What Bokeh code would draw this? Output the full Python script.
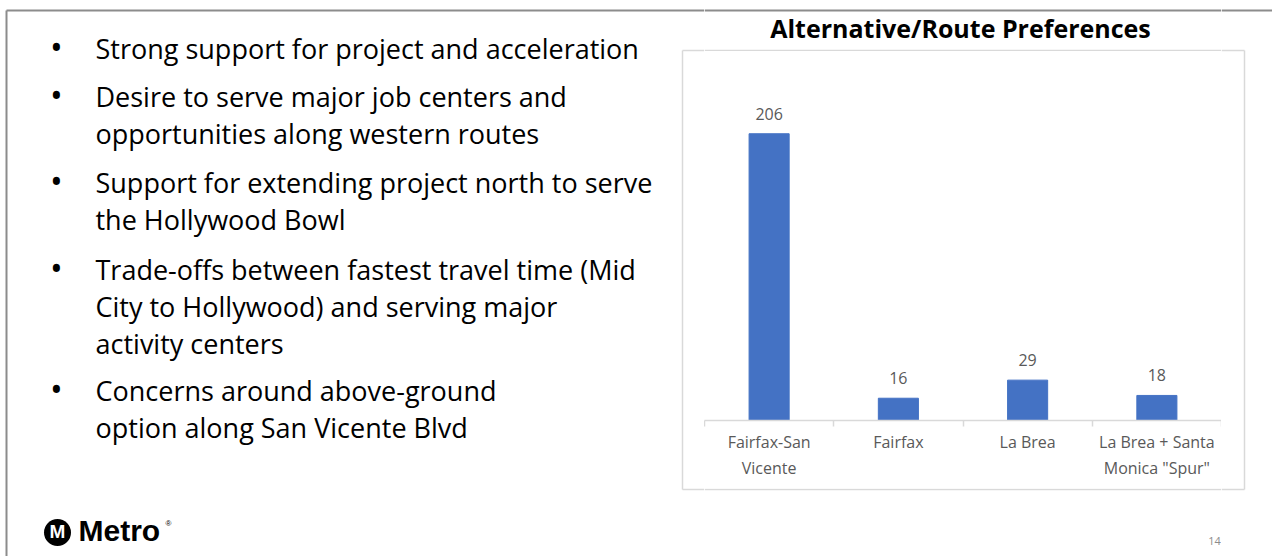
from bokeh.plotting import figure
from bokeh.layouts import row, column
from bokeh.models import Range1d, FixedTicker, LabelSet, ColumnDataSource
from bokeh.core.properties import value
from bokeh.embed import file_html
from bokeh.resources import INLINE

# ---------------- data ----------------
categories = ["Fairfax-San\nVicente", "Fairfax", "La Brea", "La Brea + Santa\nMonica \"Spur\""]
votes = [206, 16, 29, 18]
chart_title = "Alternative/Route Preferences"
bullets = [
    ["Strong support for project and acceleration"],
    ["Desire to serve major job centers and", "opportunities along western routes"],
    ["Support for extending project north to serve", "the Hollywood Bowl"],
    ["Trade-offs between fastest travel time (Mid", "City to Hollywood) and serving major", "activity centers"],
    ["Concerns around above-ground", "option along San Vicente Blvd"],
]
page_number = "14"
logo_text = "Metro"

# ---------------- page geometry (pixels) ----------------
PW, PH = 1272, 556
BOX_L, BOX_R, BOX_T, BOX_B = 682, 1244, 50, 489   # chart box border
FL, FR, FT, FB = 704, 1221, 72, 420               # chart plot area (frame)
CH_T, CH_B = 51, 488                              # chart figure top / bottom
YMAX = 250
N = len(categories)
FONT = value("Open Sans")
BORDER = "#8c8c8c"
BOXC = "#d9d9d9"


def canvas(x0, x1, y0, y1):
    f = figure(width=x1 - x0, height=y1 - y0, x_range=Range1d(x0, x1), y_range=Range1d(y1, y0),
               output_backend="svg", toolbar_location=None,
               x_axis_location=None, y_axis_location=None, min_border=0)
    f.outline_line_color = None
    f.grid.visible = False
    f.background_fill_color = "white"
    f.border_fill_color = "white"
    return f


def txt(f, s, x, y, size, align="left", bold=False, color="black", font=FONT):
    # y is the wanted baseline on the page; compensate renderer baseline shift
    px = float(size.replace("px", ""))
    f.text(x=[x], y=[y - 0.41 * px], text=[s], text_font=font, text_font_size=size, text_align=align,
           text_baseline="alphabetic", text_color=color,
           text_font_style="bold" if bold else "normal")


def seg(f, x0, y0, x1, y1, color, width):
    f.segment(x0=[x0], y0=[y0], x1=[x1], y1=[y1], line_color=color, line_width=width)


# ---------------- left panel ----------------
left = canvas(0, FL, 0, PH)
seg(left, 6, 10, FL, 10, BORDER, 2)
seg(left, 6, 10, 6, PH, BORDER, 2)
seg(left, BOX_L, BOX_T, BOX_L, BOX_B, BOXC, 1.5)
seg(left, BOX_L, BOX_T, FL, BOX_T, BOXC, 1.5)
seg(left, BOX_L, BOX_B, FL, BOX_B, BOXC, 1.5)

para_base = [59, 107, 193, 280, 401]
LINE = 37
for para, b0 in zip(bullets, para_base):
    txt(left, "\u2022", 56, b0 + 1, "34px", align="center")
    for j, line in enumerate(para):
        txt(left, line, 95, b0 + j * LINE, "27px")

cx, cy = 57, 532
left.scatter(x=[cx], y=[cy], size=27, marker="circle", fill_color="black", line_color=None)
txt(left, "M", cx, cy + 7, "19px", align="center", bold=True, color="white", font=value("Liberation Sans"))
txt(left, logo_text, 78, cy + 10, "30px", bold=True, font=value("Liberation Sans"))
txt(left, "\u00ae", 165, cy - 6, "8px", font=value("Liberation Sans"))

# ---------------- top strip (title) ----------------
top = canvas(FL, FR, 0, CH_T)
seg(top, FL, 10, FR, 10, BORDER, 2)
seg(top, FL, BOX_T, FR, BOX_T, BOXC, 1.5)
txt(top, chart_title, 960, 38, "25px", align="center", bold=True)

# ---------------- chart ----------------
p = figure(width=FR - FL, height=CH_B - CH_T, output_backend="svg", toolbar_location=None,
           x_range=Range1d(0, N), y_range=Range1d(0, YMAX), y_axis_location=None,
           min_border_left=0, min_border_right=0,
           min_border_top=FT - CH_T, min_border_bottom=CH_B - FB)
p.outline_line_color = None
p.grid.visible = False
p.background_fill_color = "white"
p.border_fill_color = "white"

xs = [i + 0.5 for i in range(N)]
src = ColumnDataSource(dict(x=xs, top=votes, label=[str(v) for v in votes]))
p.vbar(x="x", top="top", bottom=0, width=0.31, source=src, fill_color="#4472C4", line_color="#4472C4")
p.add_layout(LabelSet(x="x", y="top", text="label", source=src, y_offset=14,
                      text_align="center", text_baseline="alphabetic",
                      text_font=FONT, text_font_size=value("16px"), text_color="#595959"))

ax = p.xaxis[0]
ax.ticker = FixedTicker(ticks=xs, minor_ticks=list(range(N + 1)))
ax.major_label_overrides = {x: c for x, c in zip(xs, categories)}
ax.major_tick_line_color = None
ax.major_tick_out = 0
ax.major_tick_in = 0
ax.minor_tick_line_color = BOXC
ax.minor_tick_line_width = 1.5
ax.minor_tick_out = 6
ax.minor_tick_in = 0
ax.axis_line_color = BOXC
ax.axis_line_width = 1.5
ax.major_label_text_font = "Open Sans"
ax.major_label_text_font_size = "16px"
ax.major_label_text_color = "#595959"
ax.major_label_standoff = 4

# ---------------- bottom strip ----------------
bottom = canvas(FL, FR, CH_B, PH)
seg(bottom, FL, BOX_B, FR, BOX_B, BOXC, 1.5)
txt(bottom, page_number, 1214, 545, "11px", align="center", color=BORDER)

# ---------------- right strip ----------------
right = canvas(FR, PW, 0, PH)
seg(right, FR, 10, PW, 10, BORDER, 2)
seg(right, BOX_R, BOX_T, BOX_R, BOX_B, BOXC, 1.5)
seg(right, FR, BOX_T, BOX_R, BOX_T, BOXC, 1.5)
seg(right, FR, BOX_B, BOX_R, BOX_B, BOXC, 1.5)

layout = row(left, column(top, p, bottom), right)
open("out.html", "w").write(file_html(layout, INLINE))
